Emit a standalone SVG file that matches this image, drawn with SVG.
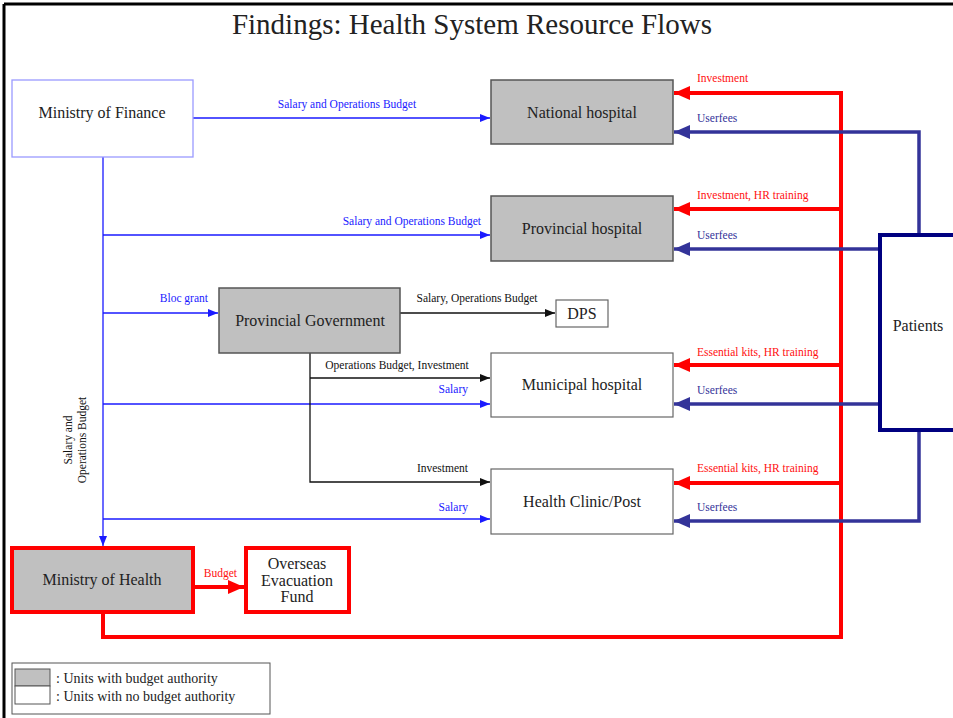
<svg xmlns="http://www.w3.org/2000/svg" width="953" height="718" viewBox="0 0 953 718">
<style>
text{font-family:"Liberation Serif","Times New Roman","DejaVu Serif",serif;}
.node{font-size:16px;fill:#222;text-anchor:middle;}
.lbl{font-size:11.5px;}
.b{fill:#1a1aff;}
.k{fill:#111;}
.r{fill:#ff1010;}
.n{fill:#333399;}
.gray{fill:#c0c0c0;stroke:#555;stroke-width:1.5;}
.white{fill:#fff;stroke:#666;stroke-width:1.2;}
.bl{stroke:#1a1aff;stroke-width:1.3;fill:none;}
.bk{stroke:#111;stroke-width:1.3;fill:none;}
.rd{stroke:#ff0000;stroke-width:4;fill:none;}
.nv{stroke:#333399;stroke-width:3.5;fill:none;}
</style>
<defs>
<marker id="ab" markerUnits="userSpaceOnUse" markerWidth="10" markerHeight="8" refX="10" refY="4" orient="auto"><path d="M0,0 L10,4 L0,8 z" fill="#1a1aff"/></marker>
<marker id="ak" markerUnits="userSpaceOnUse" markerWidth="10" markerHeight="8" refX="10" refY="4" orient="auto"><path d="M0,0 L10,4 L0,8 z" fill="#111"/></marker>
<marker id="ar" markerUnits="userSpaceOnUse" markerWidth="16" markerHeight="14" refX="16" refY="7" orient="auto"><path d="M0,0 L16,7 L0,14 z" fill="#ff0000"/></marker>
<marker id="an" markerUnits="userSpaceOnUse" markerWidth="16" markerHeight="14" refX="16" refY="7" orient="auto"><path d="M0,0 L16,7 L0,14 z" fill="#333399"/></marker>
</defs>
<rect x="0" y="0" width="953" height="718" fill="#fff"/>
<line x1="4" y1="4" x2="953" y2="4" stroke="#000" stroke-width="3"/>
<line x1="4" y1="4" x2="4" y2="718" stroke="#000" stroke-width="3"/>
<text x="472" y="34" font-size="29" text-anchor="middle" fill="#222">Findings: Health System Resource Flows</text>

<g id="connectors">
<line class="bl" x1="193" y1="118" x2="490" y2="118" marker-end="url(#ab)"/>
<line class="bl" x1="103" y1="157" x2="103" y2="546" marker-end="url(#ab)"/>
<line class="bl" x1="103" y1="235" x2="490" y2="235" marker-end="url(#ab)"/>
<line class="bl" x1="103" y1="313" x2="218" y2="313" marker-end="url(#ab)"/>
<line class="bl" x1="103" y1="404" x2="490" y2="404" marker-end="url(#ab)"/>
<line class="bl" x1="103" y1="519" x2="490" y2="519" marker-end="url(#ab)"/>
<line class="bk" x1="400" y1="313" x2="555" y2="313" marker-end="url(#ak)"/>
<polyline class="bk" points="310,353 310,482 490,482" marker-end="url(#ak)"/>
<line class="bk" x1="310" y1="378" x2="490" y2="378" marker-end="url(#ak)"/>
<polyline class="rd" points="103,612 103,637 841,637 841,93"/>
<line class="rd" x1="843" y1="93" x2="674" y2="93" marker-end="url(#ar)"/>
<line class="rd" x1="841" y1="209" x2="674" y2="209" marker-end="url(#ar)"/>
<line class="rd" x1="841" y1="365" x2="674" y2="365" marker-end="url(#ar)"/>
<line class="rd" x1="841" y1="483" x2="674" y2="483" marker-end="url(#ar)"/>
<line class="rd" x1="193" y1="587" x2="244" y2="587" marker-end="url(#ar)"/>
<polyline class="nv" points="919,235 919,132 674,132" marker-end="url(#an)"/>
<line class="nv" x1="880" y1="249" x2="674" y2="249" marker-end="url(#an)"/>
<line class="nv" x1="880" y1="404" x2="674" y2="404" marker-end="url(#an)"/>
<polyline class="nv" points="919,430 919,521 674,521" marker-end="url(#an)"/>
<text class="lbl b" x="347" y="108" text-anchor="middle">Salary and Operations Budget</text>
<text class="lbl b" x="481" y="225" text-anchor="end">Salary and Operations Budget</text>
<text class="lbl b" x="208" y="302" text-anchor="end">Bloc grant</text>
<text class="lbl k" x="477" y="302" text-anchor="middle">Salary, Operations Budget</text>
<text class="lbl k" x="397" y="369" text-anchor="middle">Operations Budget, Investment</text>
<text class="lbl b" x="468" y="393" text-anchor="end">Salary</text>
<text class="lbl k" x="468" y="472" text-anchor="end">Investment</text>
<text class="lbl b" x="468" y="511" text-anchor="end">Salary</text>
<text class="lbl r" x="237" y="577" text-anchor="end">Budget</text>
<text class="lbl r" x="697" y="82">Investment</text>
<text class="lbl n" x="697" y="122">Userfees</text>
<text class="lbl r" x="697" y="199">Investment, HR training</text>
<text class="lbl n" x="697" y="239">Userfees</text>
<text class="lbl r" x="697" y="356">Essential kits, HR training</text>
<text class="lbl n" x="697" y="394">Userfees</text>
<text class="lbl r" x="697" y="472">Essential kits, HR training</text>
<text class="lbl n" x="697" y="511">Userfees</text>
<text class="lbl k" transform="translate(72,440) rotate(-90)" text-anchor="middle">Salary and</text>
<text class="lbl k" transform="translate(86,440) rotate(-90)" text-anchor="middle">Operations Budget</text>
</g>

<g id="ministry-of-finance">
<rect x="12" y="80" width="181" height="77" fill="#fff" stroke="#9a9aff" stroke-width="1.3"/>
<text class="node" x="102" y="118">Ministry of Finance</text>
</g>
<g id="national-hospital">
<rect class="gray" x="491" y="80" width="182" height="64"/>
<text class="node" x="582" y="118">National hospital</text>
</g>
<g id="provincial-hospital">
<rect class="gray" x="491" y="196" width="182" height="65"/>
<text class="node" x="582" y="234">Provincial hospital</text>
</g>
<g id="provincial-government">
<rect class="gray" x="219" y="288" width="181" height="65"/>
<text class="node" x="310" y="326">Provincial Government</text>
</g>
<g id="dps">
<rect class="white" x="556" y="300" width="52" height="27"/>
<text class="node" x="582" y="319">DPS</text>
</g>
<g id="municipal-hospital">
<rect class="white" x="491" y="353" width="182" height="64"/>
<text class="node" x="582" y="390">Municipal hospital</text>
</g>
<g id="health-clinic">
<rect class="white" x="491" y="469" width="182" height="65"/>
<text class="node" x="582" y="507">Health Clinic/Post</text>
</g>
<g id="patients">
<rect x="880" y="235" width="80" height="195" fill="#fff" stroke="#000080" stroke-width="4"/>
<text class="node" x="918" y="331">Patients</text>
</g>
<g id="ministry-of-health">
<rect x="12" y="548" width="181" height="64" fill="#c0c0c0" stroke="#ff0000" stroke-width="4"/>
<text class="node" x="102" y="585">Ministry of Health</text>
</g>
<g id="overseas-evacuation-fund">
<rect x="246" y="548" width="103" height="64" fill="#fff" stroke="#ff0000" stroke-width="4"/>
<text class="node" x="297" y="569" font-size="13.5">Overseas</text>
<text class="node" x="297" y="586" font-size="13.5">Evacuation</text>
<text class="node" x="297" y="602" font-size="13.5">Fund</text>
</g>
<g id="legend">
<rect x="12" y="663" width="258" height="51" fill="#fff" stroke="#555" stroke-width="1"/>
<rect x="15" y="669" width="35" height="17" fill="#c0c0c0" stroke="#555" stroke-width="1"/>
<rect x="15" y="686" width="35" height="18" fill="#fff" stroke="#555" stroke-width="1"/>
<text x="56" y="683" font-size="14" fill="#222">: Units with budget authority</text>
<text x="56" y="701" font-size="14" fill="#222">: Units with no budget authority</text>
</g>
</svg>
